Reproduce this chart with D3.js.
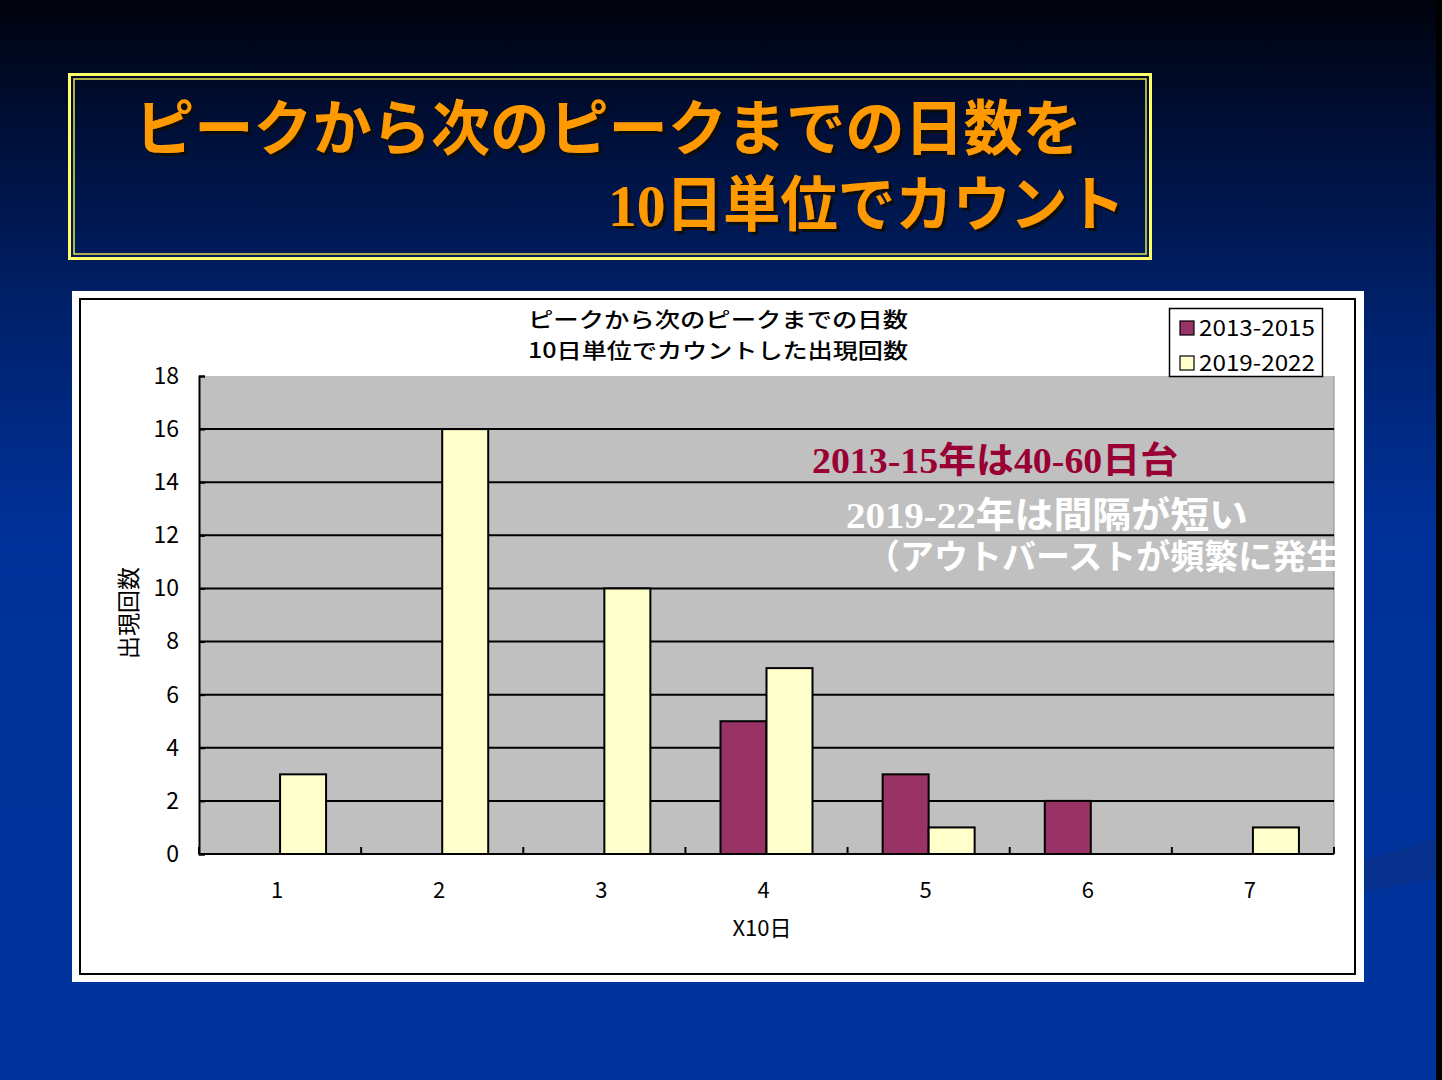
<!DOCTYPE html>
<html>
<head>
<meta charset="utf-8">
<script src="https://cdn.jsdelivr.net/npm/d3@7"></script>
<style>
  html, body { margin: 0; padding: 0; background: #003399; }
  svg { display: block; }
</style>
</head>
<body>
<svg id="slide" width="1442" height="1080"></svg>
<script>
// data
var categories = ["1", "2", "3", "4", "5", "6", "7"];
var seriesNames = ["2013-2015", "2019-2022"];
var counts2013 = [0, 0, 0, 5, 3, 2, 0];
var counts2019 = [3, 16, 10, 7, 1, 0, 1];
var yTicks = [0, 2, 4, 6, 8, 10, 12, 14, 16, 18];
var colors = ["#993366", "#ffffcc"];

var jp = "'Noto Sans CJK JP', 'Noto Sans', sans-serif";
var serifJp = "'Liberation Serif', 'Noto Sans CJK JP', serif";

var svg = d3.select("#slide");

// slide background
var defs = svg.append("defs");
var bg = defs.append("linearGradient").attr("id", "bg")
  .attr("x1", 0).attr("y1", 0).attr("x2", 0).attr("y2", 1);
bg.append("stop").attr("offset", "0%").attr("stop-color", "#00030c");
bg.append("stop").attr("offset", "12%").attr("stop-color", "#000f38");
bg.append("stop").attr("offset", "30%").attr("stop-color", "#00226e");
bg.append("stop").attr("offset", "50%").attr("stop-color", "#00319a");
bg.append("stop").attr("offset", "100%").attr("stop-color", "#00349c");

var shadow = defs.append("filter").attr("id", "shadow")
  .attr("x", "-5%").attr("y", "-20%").attr("width", "110%").attr("height", "140%");
shadow.append("feDropShadow").attr("dx", 3).attr("dy", 3).attr("stdDeviation", 0.6)
  .attr("flood-color", "#0a0a0a").attr("flood-opacity", 1);

svg.append("rect").attr("width", 1442).attr("height", 1080).attr("fill", "url(#bg)");
// faint swoosh bottom right
svg.append("path")
  .attr("d", "M1360,862 C1390,852 1415,845 1436,838 L1436,878 C1410,882 1385,888 1360,892 Z")
  .attr("fill", "#0a2f8a").attr("opacity", 0.8);
svg.append("rect").attr("x", 1436).attr("y", 0).attr("width", 6).attr("height", 1080).attr("fill", "#000");

// header box
svg.append("rect").attr("x", 69.5).attr("y", 74.5).attr("width", 1081).attr("height", 184)
  .attr("fill", "none").attr("stroke", "#ffff66").attr("stroke-width", 3);
svg.append("rect").attr("x", 74).attr("y", 79).attr("width", 1072).attr("height", 175)
  .attr("fill", "none").attr("stroke", "#e6e64c").attr("stroke-width", 1.5);

var titleLines = [
  { text: "ピークから次のピークまでの日数を", x: 135, y: 150, len: 947 },
  { text: "10日単位でカウント", x: 608, y: 226, len: 517 }
];
svg.append("g").attr("filter", "url(#shadow)").selectAll("text")
  .data(titleLines).enter().append("text")
  .attr("x", function(d) { return d.x; }).attr("y", function(d) { return d.y; })
  .attr("textLength", function(d) { return d.len; }).attr("lengthAdjust", "spacingAndGlyphs")
  .attr("font-family", serifJp).attr("font-weight", "bold")
  .attr("font-size", 60).attr("fill", "#ff9900")
  .text(function(d) { return d.text; });

// chart panel
svg.append("rect").attr("x", 72).attr("y", 291).attr("width", 1292).attr("height", 691).attr("fill", "#fff");
svg.append("rect").attr("x", 80).attr("y", 299).attr("width", 1275).attr("height", 675)
  .attr("fill", "none").attr("stroke", "#000").attr("stroke-width", 2);

var plot = { left: 199, right: 1334, top: 376, bottom: 854 };

var x = d3.scaleBand().domain(categories).range([plot.left, plot.right]);
var barW = 46;
var x1 = d3.scaleBand().domain(seriesNames)
  .range([x.bandwidth() / 2 - barW, x.bandwidth() / 2 + barW]);
var y = d3.scaleLinear().domain([0, 18]).range([plot.bottom, plot.top]);

svg.append("rect").attr("x", plot.left).attr("y", plot.top)
  .attr("width", plot.right - plot.left).attr("height", plot.bottom - plot.top)
  .attr("fill", "#c0c0c0");
svg.append("line").attr("x1", plot.right).attr("x2", plot.right)
  .attr("y1", plot.top).attr("y2", plot.bottom).attr("stroke", "#8a8a8a").attr("stroke-width", 1);

// gridlines
svg.append("g").selectAll("line")
  .data(yTicks.filter(function(d) { return d > 0 && d < 18; }))
  .enter().append("line")
  .attr("x1", plot.left).attr("x2", plot.right)
  .attr("y1", function(d) { return y(d); }).attr("y2", function(d) { return y(d); })
  .attr("stroke", "#000").attr("stroke-width", 2);

// bars
var barData = [];
categories.forEach(function(c, i) {
  barData.push({ cat: c, s: seriesNames[0], v: counts2013[i], col: colors[0] });
  barData.push({ cat: c, s: seriesNames[1], v: counts2019[i], col: colors[1] });
});

svg.append("g").selectAll("rect")
  .data(barData.filter(function(d) { return d.v > 0; }))
  .enter().append("rect")
  .attr("x", function(d) { return x(d.cat) + x1(d.s); })
  .attr("width", x1.bandwidth())
  .attr("y", function(d) { return y(d.v); })
  .attr("height", function(d) { return y(0) - y(d.v); })
  .attr("fill", function(d) { return d.col; })
  .attr("stroke", "#000").attr("stroke-width", 2);

// y axis
var yAxis = d3.axisLeft(y).tickValues(yTicks).tickSize(-6).tickPadding(20);
var gy = svg.append("g").attr("transform", "translate(" + plot.left + ",0)").call(yAxis);
gy.select(".domain").attr("stroke-width", 2);
gy.selectAll(".tick line").attr("stroke-width", 2);
gy.selectAll("text").attr("font-family", jp).attr("font-size", 23).attr("fill", "#000");

// x axis: ticks on band edges, labels on band centres
var gx = svg.append("g").attr("transform", "translate(0," + plot.bottom + ")");
gx.append("line").attr("x1", plot.left).attr("x2", plot.right).attr("stroke", "#000").attr("stroke-width", 2);
gx.selectAll(".edge").data(categories.concat(["end"])).enter().append("line")
  .attr("class", "edge")
  .attr("x1", function(d, i) { return plot.left + i * x.step(); })
  .attr("x2", function(d, i) { return plot.left + i * x.step(); })
  .attr("y1", 0).attr("y2", -7)
  .attr("stroke", "#000").attr("stroke-width", 2);
gx.selectAll(".lab").data(categories).enter().append("text")
  .attr("class", "lab")
  .attr("x", function(d) { return x(d) + x.bandwidth() / 2 - 3; })
  .attr("y", 44)
  .attr("text-anchor", "middle")
  .attr("font-family", jp).attr("font-size", 22).attr("fill", "#000")
  .text(function(d) { return d; });

svg.append("text").attr("x", 762).attr("y", 936).attr("text-anchor", "middle")
  .attr("font-family", jp).attr("font-size", 22).attr("fill", "#000").text("X10日");

svg.append("text").attr("transform", "translate(137,613) rotate(-90)")
  .attr("text-anchor", "middle")
  .attr("font-family", jp).attr("font-size", 23).attr("fill", "#000").text("出現回数");

// chart title
["ピークから次のピークまでの日数", "10日単位でカウントした出現回数"].forEach(function(t, i) {
  svg.append("text").attr("x", 528).attr("y", 327 + i * 31)
    .attr("textLength", 380).attr("lengthAdjust", "spacingAndGlyphs")
    .attr("font-family", jp).attr("font-weight", 500).attr("font-size", 21).attr("fill", "#000")
    .text(t);
});

// legend
svg.append("rect").attr("x", 1169.5).attr("y", 308.5).attr("width", 153).attr("height", 68)
  .attr("fill", "#fff").attr("stroke", "#000").attr("stroke-width", 1.5);
var lg = svg.append("g").selectAll("g").data(seriesNames).enter().append("g")
  .attr("transform", function(d, i) { return "translate(1180," + (321 + i * 35) + ")"; });
lg.append("rect").attr("width", 14).attr("height", 14)
  .attr("fill", function(d, i) { return colors[i]; }).attr("stroke", "#000").attr("stroke-width", 1.2);
lg.append("text").attr("x", 19).attr("y", 15)
  .attr("textLength", 116).attr("lengthAdjust", "spacingAndGlyphs")
  .attr("font-family", jp).attr("font-size", 22).attr("fill", "#000")
  .text(function(d) { return d; });

// annotations, clipped to the plot area
defs.append("clipPath").attr("id", "plotClip").append("rect")
  .attr("x", plot.left).attr("y", plot.top)
  .attr("width", plot.right - plot.left + 2).attr("height", plot.bottom - plot.top);
var notes = svg.append("g").attr("clip-path", "url(#plotClip)");
notes.append("text").attr("x", 812).attr("y", 473)
  .attr("textLength", 366).attr("lengthAdjust", "spacingAndGlyphs")
  .attr("font-family", serifJp).attr("font-weight", "bold").attr("font-size", 36)
  .attr("fill", "#990033").text("2013-15年は40-60日台");
notes.append("text").attr("x", 846).attr("y", 528)
  .attr("textLength", 402).attr("lengthAdjust", "spacingAndGlyphs")
  .attr("font-family", serifJp).attr("font-weight", "bold").attr("font-size", 36)
  .attr("fill", "#fff").text("2019-22年は間隔が短い");
notes.append("text").attr("x", 866).attr("y", 569)
  .attr("font-family", serifJp).attr("font-weight", "bold").attr("font-size", 34)
  .attr("fill", "#fff").text("（アウトバーストが頻繁に発生）");
</script>
</body>
</html>
